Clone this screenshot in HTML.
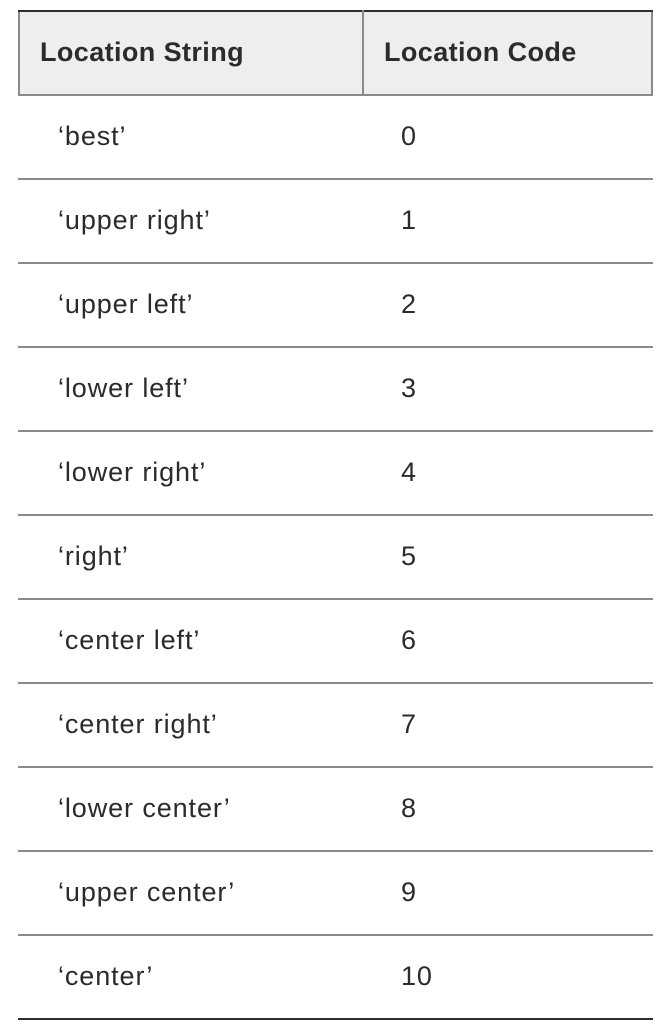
<!DOCTYPE html>
<html><head><meta charset="utf-8"><style>
body{margin:0;width:672px;height:1036px;background:#fff;position:relative;font-family:"Liberation Sans",Arial,sans-serif;color:#2b2b2b;overflow:hidden}
.hl{position:absolute;left:18px;width:635px;height:2px;background:#8a8a8a}
.t{position:absolute;font-size:27px;letter-spacing:0.9px;line-height:30px;white-space:nowrap}
.h{font-weight:bold;font-size:27px;letter-spacing:0.4px}
</style></head><body>
<div style="position:absolute;left:18px;top:10px;width:635px;height:85px;background:#eeeeee;box-sizing:border-box;border-left:2px solid #8a8a8a;border-right:2px solid #8a8a8a"></div>
<div style="position:absolute;left:18px;top:10px;width:635px;height:2px;background:#2e2e2e"></div>
<div style="position:absolute;left:362px;top:10px;width:2px;height:85px;background:#8a8a8a"></div>
<div class="t h" style="left:40px;top:37px">Location String</div>
<div class="t h" style="left:384px;top:37px">Location Code</div>
<div id="rows"></div>
<div style="position:absolute;left:18px;top:1018px;width:635px;height:2px;background:#2e2e2e"></div>
<script>
const names=["‘best’","‘upper right’","‘upper left’","‘lower left’","‘lower right’","‘right’","‘center left’","‘center right’","‘lower center’","‘upper center’","‘center’"];
const codes=[0,1,2,3,4,5,6,7,8,9,10];
const r=document.getElementById('rows');
names.forEach((n,i)=>{
  const top=95+i*84;
  const l=document.createElement('div');l.className='hl';l.style.top=(top-1)+'px';
  
  
  r.appendChild(l);
  const a=document.createElement('div');a.className='t';a.style.left='58px';a.style.top=(top+26)+'px';a.textContent=n;
  
  
  r.appendChild(a);
  const b=document.createElement('div');b.className='t';b.style.left='401px';b.style.top=(top+26)+'px';b.textContent=codes[i];
  
  
  r.appendChild(b);
});
</script>
</body></html>
